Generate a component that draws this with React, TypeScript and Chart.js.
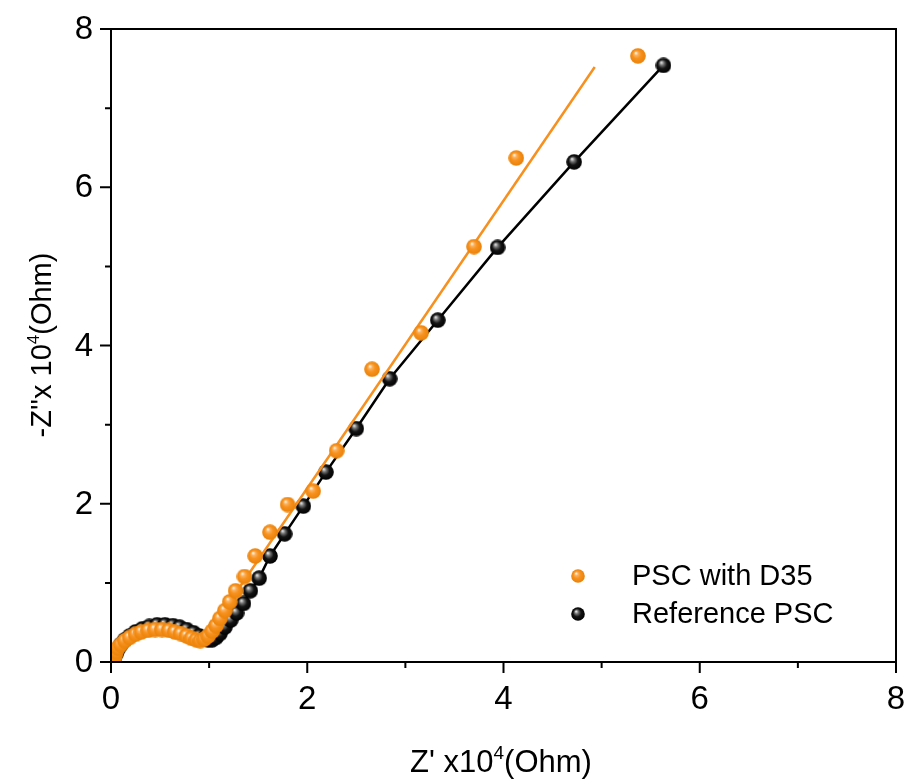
import React, { useEffect, useRef } from 'react';
import { Chart, registerables } from 'chart.js';

Chart.register(...registerables);

// PSC with D35 (orange): Z' (x10^4 Ohm), -Z'' (x10^4 Ohm)
const orangeRe = [0.03, 0.04, 0.05, 0.07, 0.10, 0.14, 0.19, 0.25, 0.31, 0.38, 0.45, 0.52, 0.59, 0.65, 0.71, 0.77, 0.82, 0.87, 0.91, 0.95, 0.99, 1.03, 1.07, 1.11, 1.16, 1.21, 1.27, 1.36, 1.47, 1.62, 1.80, 2.06, 2.30, 2.66, 3.16, 3.70, 4.13, 5.37];
const orangeIm = [0.02, 0.08, 0.13, 0.18, 0.22, 0.27, 0.31, 0.35, 0.38, 0.40, 0.41, 0.41, 0.40, 0.38, 0.36, 0.33, 0.30, 0.28, 0.27, 0.29, 0.33, 0.39, 0.46, 0.55, 0.65, 0.76, 0.90, 1.08, 1.34, 1.64, 1.99, 2.16, 2.67, 3.70, 4.16, 5.25, 6.37, 7.66];

// Reference PSC (black)
const blackRe = [0.03, 0.05, 0.07, 0.10, 0.14, 0.19, 0.25, 0.32, 0.39, 0.47, 0.55, 0.63, 0.70, 0.77, 0.84, 0.90, 0.95, 0.99, 1.03, 1.07, 1.11, 1.16, 1.22, 1.28, 1.35, 1.42, 1.51, 1.62, 1.77, 1.96, 2.19, 2.50, 2.84, 3.33, 3.94, 4.72, 5.63];
const blackIm = [0.03, 0.10, 0.16, 0.22, 0.28, 0.33, 0.38, 0.42, 0.45, 0.47, 0.47, 0.46, 0.44, 0.41, 0.37, 0.33, 0.30, 0.28, 0.28, 0.31, 0.36, 0.44, 0.53, 0.62, 0.74, 0.90, 1.06, 1.34, 1.62, 1.97, 2.40, 2.95, 3.58, 4.32, 5.24, 6.32, 7.54];

// linear fit of the orange series
const orangeFitRe = [1.05, 4.93];
const orangeFitIm = [0.47, 7.52];

const majorTicks = [0, 2, 4, 6, 8];
const minorTicks = [1, 3, 5, 7];
const tickLabels = ['0', '2', '4', '6', '8'];
const legendLabels = ['PSC with D35', 'Reference PSC'];

const ORANGE = '#f7901e';
const FONT = "'Liberation Sans', Arial, sans-serif";

function sphere(stops: [number, string][], d: number) {
  const c = document.createElement('canvas');
  c.width = d;
  c.height = d;
  const g = c.getContext('2d')!;
  const r = d / 2;
  const grad = g.createRadialGradient(r * 0.72, r * 0.62, r * 0.04, r, r, r);
  stops.forEach(([o, col]) => grad.addColorStop(o, col));
  g.fillStyle = grad;
  g.beginPath();
  g.arc(r, r, r - 0.2, 0, Math.PI * 2);
  g.fill();
  return c;
}

const orangeStops: [number, string][] = [
  [0, '#fff3e3'],
  [0.22, '#fbb25e'],
  [0.5, '#f8921f'],
  [1, '#e98106'],
];
const blackStops: [number, string][] = [
  [0, '#e6e6e6'],
  [0.25, '#707070'],
  [0.55, '#141414'],
  [1, '#000000'],
];

function drawParts(ctx: CanvasRenderingContext2D, parts: { t: string; sup?: boolean }[], size: number) {
  const supSize = Math.round(size * 0.6);
  let total = 0;
  const widths = parts.map((p) => {
    ctx.font = `${p.sup ? supSize : size}px ${FONT}`;
    const w = ctx.measureText(p.t).width;
    total += w;
    return w;
  });
  let x = -total / 2;
  parts.forEach((p, i) => {
    ctx.font = `${p.sup ? supSize : size}px ${FONT}`;
    ctx.textBaseline = 'alphabetic';
    ctx.textAlign = 'left';
    ctx.fillText(p.t, x, p.sup ? size * 0.36 - size * 0.42 : size * 0.36);
    x += widths[i];
  });
}

export default function App() {
  const ref = useRef<HTMLCanvasElement>(null);

  useEffect(() => {
    document.body.style.margin = '0';
    const canvas = ref.current!;
    const orangeBall = sphere(orangeStops, 16);
    const blackBall = sphere(blackStops, 16);
    const orangeLeg = sphere(orangeStops, 14);
    const blackLeg = sphere(blackStops, 14);

    const framePlugin = {
      id: 'frame',
      afterDraw(chart: any) {
        const { ctx, chartArea: a, scales } = chart;
        const xs = scales.x;
        const ys = scales.y;
        ctx.save();
        ctx.strokeStyle = '#000';
        ctx.lineWidth = 2;
        ctx.beginPath();
        ctx.rect(a.left, a.top, a.right - a.left, a.bottom - a.top);
        ctx.stroke();
        ctx.beginPath();
        majorTicks.forEach((v) => {
          const px = xs.getPixelForValue(v);
          ctx.moveTo(px, a.bottom);
          ctx.lineTo(px, a.bottom + 11);
          const py = ys.getPixelForValue(v);
          ctx.moveTo(a.left, py);
          ctx.lineTo(a.left - 11, py);
        });
        minorTicks.forEach((v) => {
          const px = xs.getPixelForValue(v);
          ctx.moveTo(px, a.bottom);
          ctx.lineTo(px, a.bottom + 6);
          const py = ys.getPixelForValue(v);
          ctx.moveTo(a.left, py);
          ctx.lineTo(a.left - 6, py);
        });
        ctx.stroke();

        ctx.fillStyle = '#000';
        // tick labels
        ctx.font = `33px ${FONT}`;
        ctx.textBaseline = 'middle';
        majorTicks.forEach((v, i) => {
          ctx.textAlign = 'center';
          ctx.fillText(tickLabels[i], xs.getPixelForValue(v), 700);
          ctx.textAlign = 'right';
          ctx.fillText(tickLabels[i], 93, ys.getPixelForValue(v) + 1);
        });

        // x title
        ctx.save();
        ctx.translate(501, 761);
        drawParts(ctx, [{ t: "Z' x10" }, { t: '4', sup: true }, { t: '(Ohm)' }], 31);
        ctx.restore();
        // y title
        ctx.save();
        ctx.translate(41, 345);
        ctx.rotate(-Math.PI / 2);
        drawParts(ctx, [{ t: "-Z''x 10" }, { t: '4', sup: true }, { t: '(Ohm)' }], 29);
        ctx.restore();

        // legend
        const balls = [orangeLeg, blackLeg];
        const ly = [576, 614];
        ctx.font = `29px ${FONT}`;
        ctx.textAlign = 'left';
        ctx.textBaseline = 'middle';
        legendLabels.forEach((lab, i) => {
          ctx.drawImage(balls[i], 578 - 7, ly[i] - 7, 14, 14);
          ctx.fillText(lab, 632, ly[i] + 1);
        });
        ctx.restore();
      },
    };

    const blackLineData = blackRe
      .map((x, i) => ({ x, y: blackIm[i] }))
      .filter((p) => p.x >= 1.03);

    const chart = new Chart(canvas, {
      type: 'scatter',
      data: {
        datasets: [
          {
            label: 'black line',
            data: blackLineData,
            showLine: true,
            borderColor: '#000',
            borderWidth: 2.5,
            pointRadius: 0,
            order: 5,
          },
          {
            label: legendLabels[1],
            data: blackRe.map((x, i) => ({ x, y: blackIm[i] })),
            pointStyle: blackBall as any,
            pointRadius: 8,
            order: 4,
          },
          {
            label: 'orange fit',
            data: orangeFitRe.map((x, i) => ({ x, y: orangeFitIm[i] })),
            showLine: true,
            borderColor: ORANGE,
            borderWidth: 2.5,
            pointRadius: 0,
            order: 3,
          },
          {
            label: legendLabels[0],
            data: orangeRe.map((x, i) => ({ x, y: orangeIm[i] })),
            pointStyle: orangeBall as any,
            pointRadius: 8,
            order: 2,
          },
        ],
      },
      options: {
        animation: false,
        responsive: false,
        devicePixelRatio: 1,
        layout: { padding: { top: 29, right: 15, left: 0, bottom: 0 } },
        plugins: { legend: { display: false }, tooltip: { enabled: false } },
        scales: {
          x: {
            type: 'linear',
            min: 0,
            max: 8,
            afterFit: (s: any) => {
              s.height = 119;
            },
            ticks: { display: false, stepSize: 2 },
            grid: { display: false, drawTicks: false },
            border: { color: '#000', width: 2 },
          },
          y: {
            type: 'linear',
            min: 0,
            max: 8,
            afterFit: (s: any) => {
              s.width = 111;
            },
            ticks: { display: false, stepSize: 2 },
            grid: { display: false, drawTicks: false },
            border: { color: '#000', width: 2 },
          },
        },
      },
      plugins: [framePlugin],
    });
    return () => chart.destroy();
  }, []);

  return <canvas ref={ref} width={911} height={781} style={{ display: 'block' }} />;
}
